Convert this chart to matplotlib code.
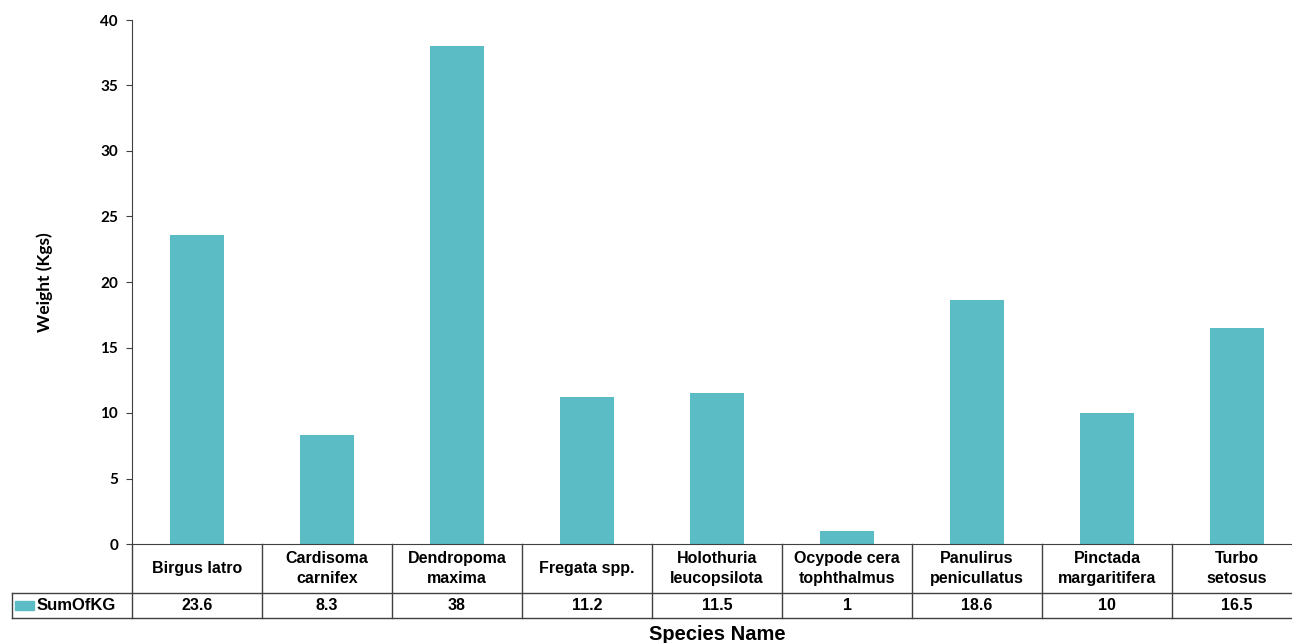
import matplotlib.pyplot as plt
import numpy as np
from matplotlib.patches import Rectangle

species = ['Birgus latro', 'Cardisoma\ncarnifex', 'Dendropoma\nmaxima', 'Fregata spp.',
           'Holothuria\nleucopsilota', 'Ocypode cera\ntophthalmus', 'Panulirus\npenicullatus',
           'Pinctada\nmargaritifera', 'Turbo\nsetosus']
weights = [23.6, 8.3, 38, 11.2, 11.5, 1, 18.6, 10, 16.5]
value_labels = ['23.6', '8.3', '38', '11.2', '11.5', '1', '18.6', '10', '16.5']
series_name = 'SumOfKG'
yticks = [0, 5, 10, 15, 20, 25, 30, 35, 40]

bar_color = '#5BBCC5'
line_color = '#404040'
plt.rcParams['font.family'] = ['Liberation Sans', 'DejaVu Sans']

W, H = 1292, 643
fig = plt.figure(figsize=(W / 100, H / 100), dpi=100)

# main plot area (runs a little past the right edge, like the original)
x0, x1 = 132, 1302
y_top, y_zero = 20, 544
ax = fig.add_axes([x0 / W, 1 - y_zero / H, (x1 - x0) / W, (y_zero - y_top) / H])
x = np.arange(len(species))
ax.bar(x, weights, width=0.41, color=bar_color)
ax.set_xlim(-0.5, len(species) - 0.5)
ax.set_ylim(0, 40)
ax.set_yticks(yticks)
ax.set_yticklabels([str(t) for t in yticks], fontsize=11, fontweight='bold',
                   family=['Lato', 'DejaVu Sans'])
ax.set_xticks([])
for s in ['top', 'right']:
    ax.spines[s].set_visible(False)
ax.spines['left'].set_color(line_color)
ax.spines['bottom'].set_color(line_color)
ax.tick_params(axis='y', length=4, color=line_color, pad=6)
ax.set_ylabel('Weight (Kgs)', fontsize=12.5, fontweight='bold', labelpad=34,
              family=['Lato', 'DejaVu Sans'])

# data table under the axis
t_left, t_bot = 12, 618
unit = (x1 - x0) / len(species)
tx = fig.add_axes([t_left / W, 1 - t_bot / H, (x1 - t_left) / W, (t_bot - y_zero) / H])
left_x = -0.5 - (x0 - t_left) / unit
tx.set_xlim(left_x, len(species) - 0.5)
tx.set_ylim(0, t_bot - y_zero)
tx.axis('off')
row_h = 25
kw = dict(color=line_color, lw=1.0, clip_on=False)
tx.plot([left_x, len(species) - 0.5], [0, 0], **kw)
tx.plot([left_x, len(species) - 0.5], [row_h, row_h], **kw)
tx.plot([left_x, left_x], [0, row_h], **kw)
for i in range(len(species) + 1):
    tx.plot([i - 0.5, i - 0.5], [0, t_bot - y_zero], **kw)
for i, (name, val) in enumerate(zip(species, value_labels)):
    tx.text(i, (row_h + t_bot - y_zero) / 2, name, ha='center', va='center',
            fontsize=11.5, fontweight='bold', linespacing=1.35)
    tx.text(i, row_h / 2, val, ha='center', va='center', fontsize=11.5, fontweight='bold')
tx.add_patch(Rectangle((left_x + 3 / unit, 8), 19 / unit, 9, color=bar_color, clip_on=False))
tx.text(left_x + 25 / unit, row_h / 2, series_name, ha='left', va='center',
        fontsize=12, fontweight='bold')

fig.text((x0 + x1) / 2 / W, 1 - 635 / H, 'Species Name', ha='center', va='center',
         fontsize=14.5, fontweight='bold')

fig.savefig('out.png', dpi=100)
